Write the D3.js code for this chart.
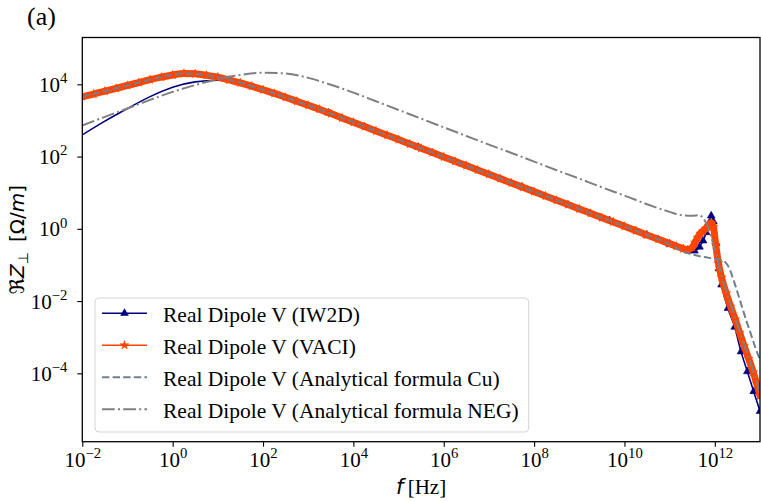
<!DOCTYPE html>
<html>
<head>
<meta charset="utf-8">
<script src="https://cdn.jsdelivr.net/npm/d3@7"></script>
<style>
  html, body { margin: 0; padding: 0; background: #fff; }
  svg { display: block; }
</style>
</head>
<body>
<svg id="chart" width="761" height="501"></svg>
<script>
// ---- Real part of the vertical dipolar impedance, Re Z⊥ [Ω/m] vs f [Hz] ----

// IW2D simulation
const iw2dFreq = [1e-2, 3.16e-2, 1e-1, 3.16e-1, 1, 3.16, 10, 31.6, 100, 316, 1e3, 2.82e3,
  1e4, 3.16e4, 1e5, 2.75e5, 1e6, 3.16e6, 1e7, 5.37e7, 3.16e8, 1e9, 4.68e9, 1e10, 3.09e10,
  1e11, 2.57e11, 3.55e11, 4.57e11, 5.5e11, 6.46e11, 7.41e11, 8.32e11, 9.33e11, 1.07e12,
  1.23e12, 1.41e12, 1.95e12, 2.75e12, 3.8e12, 5.25e12, 7.24e12, 1e13];
const iw2dReZ = [398, 955, 2.14e3, 4.57e3, 8.32e3, 1.17e4, 1.29e4, 1.07e4, 7.24e3, 4.37e3, 2.63e3, 1.62e3,
  891, 513, 295, 182, 97.7, 56.2, 32.4, 14.5, 6.17, 3.55, 1.70, 1.17, 0.676,
  0.380, 0.251, 0.245, 0.316, 0.468, 0.794, 1.41, 2.29, 1.58, 0.398,
  0.0794, 0.0282, 6.31e-3, 1.91e-3, 3.98e-4, 1.12e-4, 3.16e-5, 8.91e-6];
// samples that carry a marker
const iw2dMarkIdx = [11, 15, 19, 22, 24, 25, 26, 27, 28, 29, 30, 31, 32, 33, 34, 35, 36, 37, 38, 39, 40, 41, 42];

// VACI simulation
const vaciFreq = [1e-2, 1.78e-2, 3.16e-2, 5.62e-2, 1e-1, 1.78e-1, 3.16e-1, 5.62e-1,
  1, 1.78, 3.16, 5.62, 10, 17.8, 31.6, 56.2, 100, 178, 316, 562,
  1e3, 1.78e3, 3.16e3, 5.62e3, 1e4, 1.78e4, 3.16e4, 5.62e4, 1e5, 1.78e5, 3.16e5, 5.62e5,
  1e6, 1.78e6, 3.16e6, 5.62e6, 1e7, 1.78e7, 3.16e7, 5.62e7, 1e8, 1.78e8, 3.16e8, 5.62e8,
  1e9, 1.78e9, 3.16e9, 5.62e9, 1e10, 1.78e10, 3.16e10, 5.62e10, 1e11,
  1.41e11, 2.0e11, 2.51e11, 3.16e11, 3.63e11, 4.17e11, 4.79e11, 5.5e11, 6.31e11, 7.24e11,
  8.32e11, 9.33e11, 1.05e12, 1.2e12, 1.41e12, 1.78e12, 2.24e12, 2.82e12, 3.55e12, 4.47e12,
  5.62e12, 7.08e12, 8.51e12, 1e13];
const vaciReZ = [4.57e3, 5.37e3, 6.46e3, 7.76e3, 9.33e3, 1.12e4, 1.35e4, 1.58e4,
  1.82e4, 2.00e4, 1.95e4, 1.78e4, 1.58e4, 1.32e4, 1.10e4, 8.91e3, 7.08e3, 5.62e3, 4.37e3, 3.39e3,
  2.63e3, 2.04e3, 1.55e3, 1.17e3, 891, 676, 513, 389, 295, 224, 170, 129,
  97.7, 74.1, 56.2, 42.7, 32.4, 24.5, 18.6, 14.1, 10.7, 8.13, 6.17, 4.68,
  3.55, 2.69, 2.04, 1.55, 1.17, 0.891, 0.676, 0.513, 0.389,
  0.331, 0.282, 0.263, 0.302, 0.417, 0.575, 0.741, 0.871, 1.02, 1.23,
  1.48, 1.12, 0.355, 0.112, 0.0447, 0.0166, 7.08e-3, 3.16e-3, 1.32e-3, 5.62e-4,
  2.51e-4, 1.07e-4, 5.01e-5, 2.4e-5];

// Analytical formula, copper
const cuFreq = [1e-2, 3.16e-2, 1e-1, 3.16e-1, 1, 1.78, 3.16, 10, 31.6, 100, 316, 1e3, 3.16e3,
  1e4, 3.16e4, 1e5, 3.16e5, 1e6, 3.16e6, 1e7, 3.16e7, 1e8, 3.16e8, 1e9, 3.16e9, 1e10, 3.16e10,
  1e11, 1.78e11, 3.16e11, 5.62e11, 1e12, 1.41e12, 1.78e12, 2.14e12, 2.57e12, 3.16e12,
  3.98e12, 5.01e12, 6.31e12, 7.94e12, 1e13];
const cuReZ = [4.57e3, 6.46e3, 9.33e3, 1.35e4, 1.82e4, 2.00e4, 1.95e4, 1.58e4, 1.10e4, 7.08e3, 4.37e3, 2.63e3, 1.55e3,
  891, 513, 295, 170, 97.7, 56.2, 32.4, 18.6, 10.7, 6.17, 3.55, 2.04, 1.17, 0.676,
  0.372, 0.251, 0.195, 0.166, 0.148, 0.135, 0.112, 0.0759, 0.0398, 0.0178,
  7.08e-3, 2.82e-3, 1.2e-3, 5.01e-4, 2.4e-4];

// Analytical formula, NEG coating
const negFreq = [1e-2, 3.16e-2, 1e-1, 3.16e-1, 1, 3.16, 10, 31.6, 100, 316, 1e3, 3.16e3,
  1e4, 3.16e4, 1e5, 3.16e5, 1e6, 3.16e6, 1e7, 3.16e7, 1e8, 3.16e8, 1e9, 3.16e9, 1e10, 3.16e10,
  1e11, 1.78e11, 3.16e11, 4.47e11, 5.62e11, 7.08e11, 8.91e11, 1.12e12, 1.41e12, 1.78e12,
  2.24e12, 2.82e12, 3.55e12, 4.47e12, 5.62e12, 7.08e12, 8.51e12, 1e13];
const negReZ = [724, 1.26e3, 2.14e3, 3.72e3, 6.17e3, 9.55e3, 1.38e4, 1.82e4, 2.09e4, 2.0e4, 1.51e4, 9.77e3,
  5.89e3, 3.39e3, 1.95e3, 1.12e3, 646, 372, 214, 126, 72.4, 41.7, 24.5, 14.1, 8.32, 4.79,
  2.95, 2.40, 2.29, 2.40, 1.91, 1.12, 0.447, 0.158, 0.0501, 0.0191,
  7.94e-3, 3.47e-3, 1.45e-3, 6.31e-4, 2.75e-4, 1.17e-4, 5.62e-5, 2.82e-5];

// Axis ticks and labels
const xTickExp = [-2, 0, 2, 4, 6, 8, 10, 12];
const yTickExp = [-4, -2, 0, 2, 4];
const legendLabels = [
  "Real Dipole V (IW2D)",
  "Real Dipole V (VACI)",
  "Real Dipole V (Analytical formula Cu)",
  "Real Dipole V (Analytical formula NEG)"
];

// ---------------------------------------------------------------------------
const svg = d3.select("#chart");
const box = { left: 82.3, right: 760, top: 37.5, bottom: 441.7 };
const serif = "'Liberation Serif', 'Times New Roman', serif";
const sans = "'DejaVu Sans', sans-serif";
const tickFont = 21;

const x = d3.scaleLog().domain([1e-2, 1e13]).range([box.left, box.right]);
const y = d3.scaleLog().domain([Math.pow(10, -5.893), Math.pow(10, 5.296)]).range([box.bottom, box.top]);

svg.append("rect").attr("width", 761).attr("height", 501).attr("fill", "#fff");

svg.append("defs").append("clipPath").attr("id", "plotClip")
  .append("rect")
  .attr("x", box.left).attr("y", box.top)
  .attr("width", box.right - box.left).attr("height", box.bottom - box.top);

const zipSeries = (f, z) => f.map((v, i) => [v, z[i]]);

const series = [
  { label: legendLabels[0], data: zipSeries(iw2dFreq, iw2dReZ), color: "#000080", width: 1.6,
    dash: null, marker: d3.symbolTriangle, markerSize: 26, markIdx: iw2dMarkIdx },
  { label: legendLabels[1], data: zipSeries(vaciFreq, vaciReZ), color: "#ff4500", width: 1.6,
    dash: null, marker: d3.symbolStar, markerSize: 24, band: 7 },
  { label: legendLabels[2], data: zipSeries(cuFreq, cuReZ), color: "#708090", width: 2,
    dash: "7.4,3.2" },
  { label: legendLabels[3], data: zipSeries(negFreq, negReZ), color: "#808080", width: 2,
    dash: "12.8,3.2,2,3.2" }
];

const line = d3.line()
  .x(d => x(d[0]))
  .y(d => y(d[1]))
  .curve(d3.curveMonotoneX);

const plotG = svg.append("g").attr("clip-path", "url(#plotClip)");

series.forEach(s => {
  const g = plotG.append("g");
  if (s.band) {
    // dense star markers merge into a band along the curve
    g.append("path").datum(s.data)
      .attr("d", line).attr("fill", "none")
      .attr("stroke", s.color).attr("stroke-width", s.band)
      .attr("stroke-linejoin", "round").attr("stroke-linecap", "round");
  }
  g.append("path").datum(s.data)
    .attr("d", line).attr("fill", "none")
    .attr("stroke", s.color).attr("stroke-width", s.width)
    .attr("stroke-dasharray", s.dash)
    .attr("stroke-linejoin", "round");
  if (s.marker) {
    const pts = s.markIdx ? s.markIdx.map(i => s.data[i]) : s.data;
    g.selectAll("path.mk").data(pts).join("path")
      .attr("class", "mk")
      .attr("d", d3.symbol().type(s.marker).size(s.markerSize))
      .attr("transform", d => `translate(${x(d[0])},${y(d[1])})`)
      .attr("fill", s.color).attr("stroke", s.color).attr("stroke-width", 0.6);
  }
});

// ---- axes ----
function powerLabel(text, exp) {
  text.text(null);
  text.append("tspan").text("10");
  text.append("tspan")
    .attr("dy", -0.42 * tickFont)
    .attr("font-size", 0.7 * tickFont)
    .text(exp < 0 ? "\u2212" + (-exp) : String(exp));
}

const xAxis = d3.axisBottom(x)
  .tickValues(xTickExp.map(e => Math.pow(10, e)))
  .tickSize(5).tickPadding(6).tickFormat("");
const gx = svg.append("g").attr("transform", `translate(0,${box.bottom})`).call(xAxis);
gx.select(".domain").remove();
gx.selectAll(".tick line").attr("stroke", "#000").attr("stroke-width", 1.1);
gx.selectAll(".tick").each(function (d) {
  const t = d3.select(this).append("text")
    .attr("x", 0).attr("y", 25.5)
    .attr("text-anchor", "middle")
    .attr("font-family", serif).attr("font-size", tickFont).attr("fill", "#000");
  powerLabel(t, Math.round(Math.log10(d)));
});

const yAxis = d3.axisLeft(y)
  .tickValues(yTickExp.map(e => Math.pow(10, e)))
  .tickSize(5).tickFormat("");
const gy = svg.append("g").attr("transform", `translate(${box.left},0)`).call(yAxis);
gy.select(".domain").remove();
gy.selectAll(".tick line").attr("stroke", "#000").attr("stroke-width", 1.1);
gy.selectAll(".tick").each(function (d) {
  const t = d3.select(this).append("text")
    .attr("x", -15).attr("y", 7)
    .attr("text-anchor", "end")
    .attr("font-family", serif).attr("font-size", tickFont).attr("fill", "#000");
  powerLabel(t, Math.round(Math.log10(d)));
});

// frame
svg.append("rect")
  .attr("x", box.left).attr("y", box.top)
  .attr("width", box.right - box.left).attr("height", box.bottom - box.top)
  .attr("fill", "none").attr("stroke", "#000").attr("stroke-width", 1.3);

// axis titles
const xt = svg.append("text")
  .attr("x", (box.left + box.right) / 2).attr("y", 494)
  .attr("text-anchor", "middle").attr("font-size", 21).attr("fill", "#000");
xt.append("tspan").attr("font-family", sans).attr("font-style", "italic").text("f");
xt.append("tspan").attr("font-family", serif).text("\u2009[Hz]");

const yt = svg.append("text")
  .attr("transform", `translate(24,${(box.top + box.bottom) / 2}) rotate(-90)`)
  .attr("text-anchor", "middle").attr("font-family", sans).attr("font-size", 20).attr("fill", "#000");
yt.append("tspan").text("\u211C");
yt.append("tspan").attr("font-style", "italic").text("Z");
yt.append("tspan").attr("font-size", 14).attr("dy", 4).text("\u22A5");
yt.append("tspan").attr("dy", -4).text("\u2002[\u03A9/");
yt.append("tspan").attr("font-style", "italic").text("m");
yt.append("tspan").text("]");

// panel tag
svg.append("text").attr("x", 27).attr("y", 25)
  .attr("font-family", serif).attr("font-size", 26).attr("fill", "#000").text("(a)");

// ---- legend ----
const lg = svg.append("g");
const lgLeft = 95, lgTop = 298, rowBase = 321.5, rowStep = 32, textX = 163;
const lgRect = lg.append("rect")
  .attr("x", lgLeft).attr("y", lgTop).attr("rx", 4).attr("ry", 4)
  .attr("height", 134)
  .attr("fill", "#fff").attr("fill-opacity", 0.85)
  .attr("stroke", "#d5d5d5").attr("stroke-width", 1);
let maxLen = 0;
series.forEach((s, i) => {
  const by = rowBase + i * rowStep;
  const hy = by - 8.3;
  lg.append("line").attr("x1", 102).attr("x2", 147).attr("y1", hy).attr("y2", hy)
    .attr("stroke", s.color).attr("stroke-width", s.width)
    .attr("stroke-dasharray", s.dash);
  if (s.marker) {
    lg.append("path")
      .attr("d", d3.symbol().type(s.marker).size(s.markerSize))
      .attr("transform", `translate(124.5,${hy})`)
      .attr("fill", s.color).attr("stroke", s.color).attr("stroke-width", 0.6);
  }
  const t = lg.append("text").attr("x", textX).attr("y", by)
    .attr("font-family", serif).attr("font-size", 21.5).attr("fill", "#000")
    .text(s.label);
  maxLen = Math.max(maxLen, t.node().getComputedTextLength());
});
lgRect.attr("width", textX + maxLen + 10 - lgLeft);
</script>
</body>
</html>
